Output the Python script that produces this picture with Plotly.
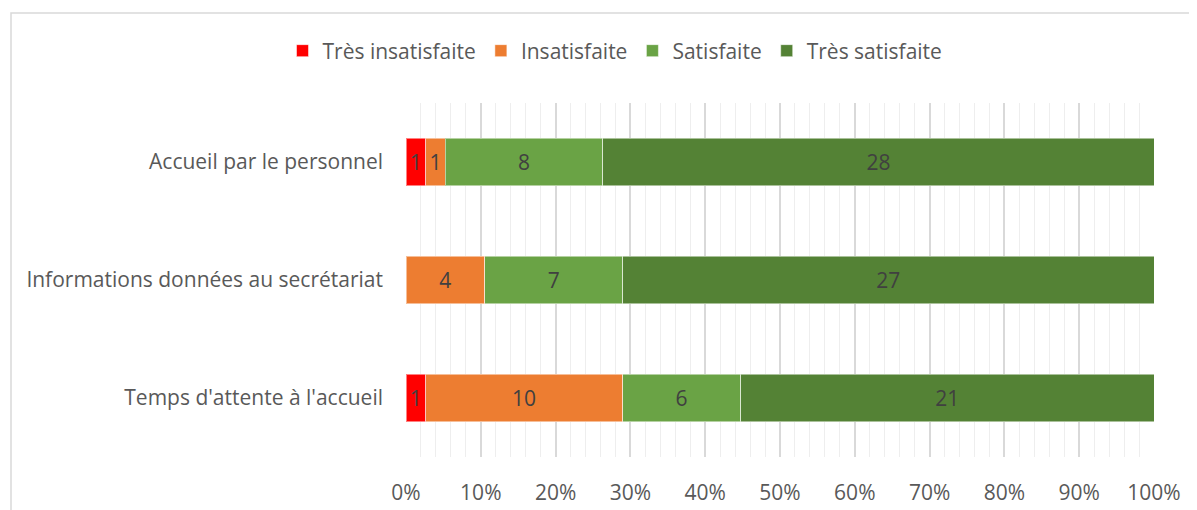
import plotly.graph_objects as go

categories = ["Temps d'attente à l'accueil", "Informations données au secrétariat", "Accueil par le personnel"]
series_names = ["Très insatisfaite", "Insatisfaite", "Satisfaite", "Très satisfaite"]
tres_insatisfaite = [1, 0, 1]
insatisfaite = [10, 4, 1]
satisfaite = [6, 7, 8]
tres_satisfaite = [21, 27, 28]
colors = ["#FF0000", "#ED7D31", "#6AA345", "#548235"]
x_tick_vals = [0, 10, 20, 30, 40, 50, 60, 70, 80, 90, 100]
x_tick_text = ["0%", "10%", "20%", "30%", "40%", "50%", "60%", "70%", "80%", "90%", "100%"]

series_values = [tres_insatisfaite, insatisfaite, satisfaite, tres_satisfaite]

FONT = "Open Sans"
FS = 21
W, H = 1189, 502  # page adds an 8px body margin

fig = go.Figure()
for name, vals, col in zip(series_names, series_values, colors):
    fig.add_trace(go.Bar(
        y=categories, x=vals, name=name, orientation="h",
        marker=dict(color=col, line=dict(color="rgba(255,255,255,0.5)", width=1)),
        text=[str(v) if v else "" for v in vals],
        textposition="inside", insidetextanchor="middle", textangle=0,
        textfont=dict(color="#404040", size=FS, family=FONT),
        constraintext="none",
    ))

fig.update_layout(
    barmode="stack", barnorm="percent", bargap=0.6,
    width=W, height=H,
    margin=dict(l=398, r=43, t=95, b=53, autoexpand=False),
    paper_bgcolor="white", plot_bgcolor="white",
    font=dict(family=FONT, color="#595959", size=FS),
    uniformtext=dict(mode="show", minsize=FS),
    legend=dict(orientation="h", xref="container", yref="container", x=607 / W, y=1 - 43 / H,
                xanchor="center", yanchor="middle", font=dict(size=FS, color="#595959"),
                itemwidth=30, traceorder="normal"),
    showlegend=True,
)
fig.update_xaxes(
    range=[0, 100], tickmode="array", tickvals=x_tick_vals, ticktext=x_tick_text,
    showgrid=True, gridcolor="#D9D9D9", gridwidth=2,
    minor=dict(dtick=2, showgrid=True, gridcolor="#EEEEEE", gridwidth=1),
    zeroline=False, showline=False, ticks="",
    ticklabelstandoff=21,
    tickfont=dict(size=FS, color="#595959"),
)
fig.update_yaxes(
    showgrid=False, zeroline=False, showline=False, ticks="",
    ticklabelstandoff=22, tickfont=dict(size=FS, color="#595959"),
)
fig.add_shape(type="rect", xref="paper", yref="paper",
              x0=(3 - 398) / 748, x1=1.2, y0=-0.5, y1=(449 - 5) / 354,
              line=dict(color="#D9D9D9", width=1.5), fillcolor="rgba(0,0,0,0)", layer="below")

fig.write_html("out.html")
